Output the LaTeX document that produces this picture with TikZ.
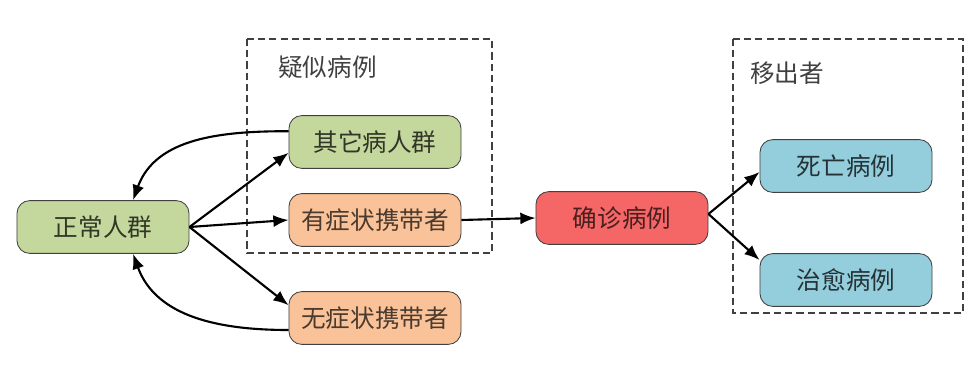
\documentclass[tikz,border=0pt]{standalone}
\usepackage{fontspec}
\setmainfont{Noto Sans CJK SC}
\usetikzlibrary{arrows.meta, positioning, calc}
\definecolor{grpgreen}{RGB}{196,215,156}
\definecolor{grporange}{RGB}{250,194,152}
\definecolor{grpred}{RGB}{245,102,102}
\definecolor{grpblue}{RGB}{148,205,220}
\definecolor{grpgray}{RGB}{64,64,64}

\begin{document}
\begin{tikzpicture}[
    x=0.025cm, y=-0.025cm,
    font=\fontsize{17.5}{20}\selectfont,
    >={Latex[length=3.8mm, width=3mm]},
    % Styles for the population groups
    group/.style={draw=black!75, line width=0.6pt, rounded corners=0.32cm, minimum width=4.3cm, minimum height=1.32cm, align=center, inner sep=0pt},
    healthy/.style={group, fill=grpgreen, text=grpgreen!25!black},
    carrier/.style={group, fill=grporange, text=grporange!30!black},
    confirmed/.style={group, fill=grpred, text=grpred!30!black},
    removed/.style={group, fill=grpblue, text=grpblue!25!black},
    region/.style={draw=black!75, line width=0.8pt, dash pattern=on 5pt off 3pt},
    regionlabel/.style={anchor=west, text=grpgray, inner sep=0pt},
    arrow/.style={->, line width=1.5pt, draw=black}
]
\useasboundingbox (0,0) rectangle (973,380);

% ----------------------------------------------------
% Dashed regions
% ----------------------------------------------------
\draw[region] (247,39) rectangle (492,253);
\node[regionlabel] (suspectlabel) at (278,67) {疑似病例};

\draw[region] (733,39) rectangle (963,313);
\node[regionlabel] (removedlabel) at (750,73) {移出者};

% ----------------------------------------------------
% Groups
% ----------------------------------------------------
\node[healthy] (normal) at (103,227) {正常人群};

\node[healthy] (others) at (375,142) {其它病人群};
\node[carrier] (symptom) at (375,220) {有症状携带者};
\node[carrier] (nosymptom) at (375,318) {无症状携带者};

\node[confirmed] (confirm) at (622,218) {确诊病例};

\node[removed] (death) at (846,166) {死亡病例};
\node[removed] (cured) at (846,280) {治愈病例};

% ----------------------------------------------------
% Transitions
% ----------------------------------------------------
\draw[arrow] (normal.east) -- ([yshift=-0.27cm]others.west);
\draw[arrow] (normal.east) -- (symptom.west);
\draw[arrow] (normal.east) -- ([yshift=0.32cm]nosymptom.west);

% back to the healthy group
\draw[arrow] ([yshift=0.27cm]others.west) to[out=180, in=70] ([xshift=0.75cm]normal.north);
\draw[arrow] ([yshift=-0.3cm]nosymptom.west) to[out=180, in=-70] ([xshift=0.75cm]normal.south);

\draw[arrow] (symptom.east) -- (confirm.west);

\draw[arrow] ([yshift=0.1cm]confirm.east) -- ([yshift=-0.15cm]death.west);
\draw[arrow] ([yshift=0.1cm]confirm.east) -- ([yshift=0.5cm]cured.west);

\end{tikzpicture}
\end{document}
